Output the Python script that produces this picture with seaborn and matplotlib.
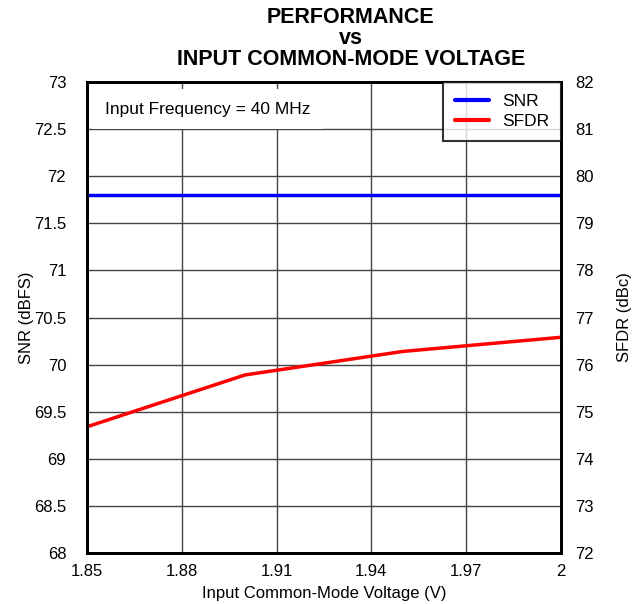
import numpy as np
import pandas as pd
import matplotlib
matplotlib.use('Agg')
import matplotlib.pyplot as plt
import seaborn as sns

# data
vcm = [1.85, 1.90, 1.95, 2.00]
snr = [71.8, 71.8, 71.8, 71.8]
sfdr = [74.68, 75.78, 76.28, 76.58]
x_ticks = [1.85, 1.88, 1.91, 1.94, 1.97, 2.0]
x_labels = ['1.85', '1.88', '1.91', '1.94', '1.97', '2']

sns.set_style('white')
plt.rcParams['font.family'] = ['Liberation Sans', 'DejaVu Sans']
plt.rcParams['text.color'] = 'black'
plt.rcParams['axes.labelcolor'] = 'black'
plt.rcParams['xtick.color'] = 'black'
plt.rcParams['ytick.color'] = 'black'

df = pd.DataFrame({'Vcm': vcm, 'SNR': snr, 'SFDR': sfdr})

fig = plt.figure(figsize=(6.39, 6.04), dpi=100)
ax = fig.add_axes([87 / 639, 1 - 553 / 604, (561 - 87) / 639, (553 - 82) / 604])
ax2 = ax.twinx()

sns.lineplot(data=df, x='Vcm', y='SNR', ax=ax, color='#0000ff', linewidth=2.5, legend=False)
sns.lineplot(data=df, x='Vcm', y='SFDR', ax=ax2, color='#ff0000', linewidth=2.5, legend=False)

ax.set_xlim(1.85, 2.0)
ax.set_ylim(68, 73)
ax2.set_ylim(72, 82)
ax.set_xticks(x_ticks)
ax.set_xticklabels(x_labels)
ax.set_yticks(np.arange(68, 73.01, 0.5))
ax.set_yticklabels(['68', '68.5', '69', '69.5', '70', '70.5', '71', '71.5', '72', '72.5', '73'])
ax2.set_yticks(np.arange(72, 82.01, 1))

ax.grid(True, color='#444444', linewidth=1)
ax.set_axisbelow(True)
ax.tick_params(axis='x', labelsize=12, length=0, pad=8)
ax.tick_params(axis='y', labelsize=12, length=0, pad=15)
ax2.tick_params(labelsize=12, length=0, pad=10)

for a in (ax, ax2):
    for s in a.spines.values():
        s.set_linewidth(2)
        s.set_color('black')

ax.set_xlabel('Input Common-Mode Voltage (V)', fontsize=12, labelpad=5)
ax.set_ylabel('SNR (dBFS)', fontsize=12, labelpad=0)
ax2.set_ylabel('SFDR (dBc)', fontsize=12, labelpad=17)

fig.text(0.549, 0.988, 'PERFORMANCE\nvs\nINPUT COMMON-MODE VOLTAGE', ha='center', va='top',
         fontsize=15.5, fontweight='bold', linespacing=1.0)

ax2.text(0.037, 0.958, 'Input Frequency = 40 MHz', transform=ax.transAxes, fontsize=12.5,
         va='top', ha='left', bbox=dict(facecolor='white', edgecolor='none', pad=9), zorder=5)

handles = [plt.Line2D([], [], color='#0000ff', linewidth=3),
           plt.Line2D([], [], color='#ff0000', linewidth=3)]
leg = ax2.legend(handles, ['SNR', 'SFDR'], loc='upper right', fontsize=12.5, frameon=True,
                 fancybox=False, borderaxespad=0, handlelength=1.95, handletextpad=0.75,
                 borderpad=0.7, labelspacing=0.25)
leg.get_frame().set_edgecolor('black')
leg.get_frame().set_linewidth(1.5)

fig.savefig('out.png', dpi=100)
